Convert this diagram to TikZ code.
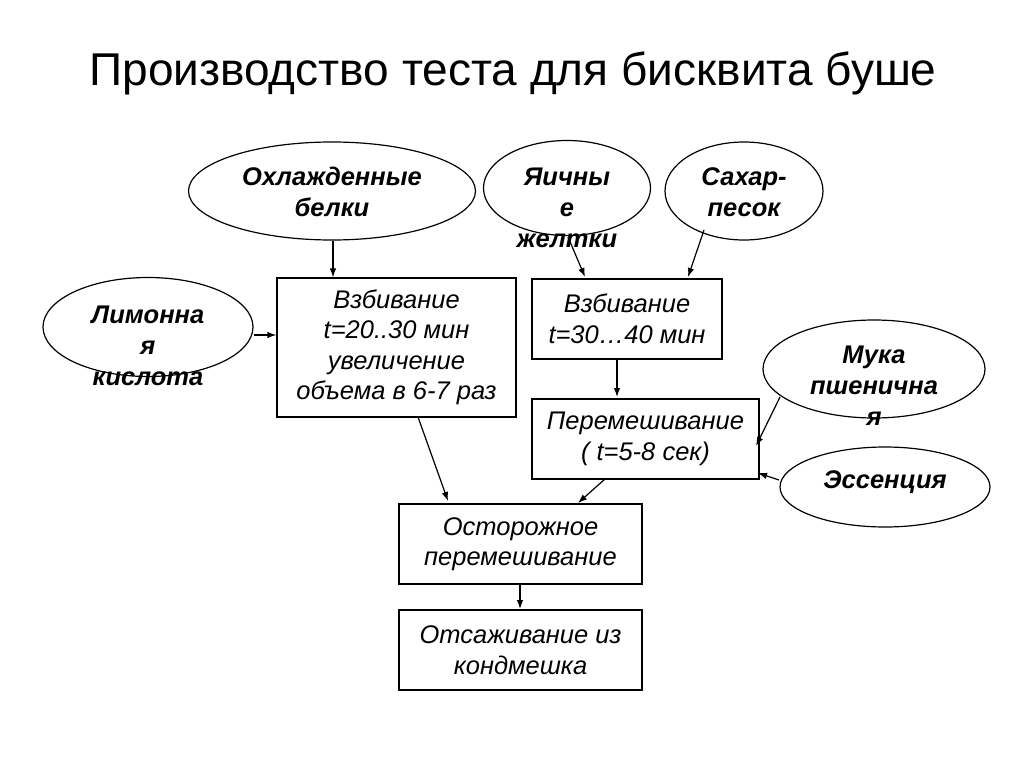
\documentclass[tikz,border=0pt]{standalone}
\usepackage{fontspec}
\setmainfont{Liberation Sans}
\usetikzlibrary{shapes.geometric,arrows.meta}
\begin{document}
\begin{tikzpicture}[x=1pt,y=-1pt,
  ell/.style={draw=black,line width=1.2pt,ellipse,inner sep=0pt},
  ebox/.style={draw=black,line width=1.2pt,inner sep=0pt},
  etxt/.style={font=\fontsize{25.5}{31}\selectfont\bfseries\itshape,align=center,inner sep=0pt},
  btxt/.style={font=\fontsize{25.5}{30.5}\selectfont\itshape,align=center,inner sep=0pt},
  arr/.style={-{Latex[length=9pt,width=6.5pt]},line width=1.2pt}]
\useasboundingbox (0,0) rectangle (1024,767);
\fill[white] (0,0) rectangle (1024,767);
\node[font=\fontsize{46}{56}\selectfont,inner sep=0pt] (title) at (513,73) {Производство теста для бисквита буше};
% ellipses
\node[ell,minimum width=287pt,minimum height=98pt] (e1) at (332,191) {};
\node[ell,minimum width=167pt,minimum height=95pt] (e2) at (567,188) {};
\node[ell,minimum width=158pt,minimum height=98pt] (e3) at (744,191) {};
\node[ell,minimum width=210pt,minimum height=99pt] (e4) at (148,327) {};
\node[ell,minimum width=222pt,minimum height=98pt] (e5) at (874,369) {};
\node[ell,minimum width=210pt,minimum height=80pt] (e6) at (885,487) {};
\node[etxt] (t1) at (332,192) {Охлажденные\\белки};
\node[etxt] (t2) at (567,208) {Яичны\\е\\желтки};
\node[etxt] (t3) at (744,192) {Сахар-\\песок};
\node[etxt] (t4) at (148,346) {Лимонна\\я\\кислота};
\node[etxt] (t5) at (874,386) {Мука\\пшенична\\я};
\node[etxt] (t6) at (885,482) {Эссенция};
% boxes
\node[ebox,minimum width=239pt,minimum height=139pt] (b1) at (396.5,347.5) {};
\node[ebox,minimum width=190pt,minimum height=80pt] (b2) at (627,319) {};
\node[ebox,minimum width=227pt,minimum height=80pt] (b3) at (645.5,439) {};
\node[ebox,minimum width=243pt,minimum height=80pt] (b4) at (520.5,544) {};
\node[ebox,minimum width=243pt,minimum height=80pt] (b5) at (520.5,650) {};
\node[btxt] at (b1) {Взбивание\\t=20..30 мин\\увеличение\\объема в 6-7 раз};
\node[btxt] at (b2) {Взбивание\\t=30\ldots40 мин};
\node[btxt] at (b3) {Перемешивание\\( t=5-8 сек)};
\node[btxt] at (b4) {Осторожное\\перемешивание};
\node[btxt] at (b5) {Отсаживание из\\кондмешка};
% connectors
\coordinate (p1) at (333,276);
\draw[arr] (e1.south -| p1) -- (p1 |- b1.north);
\draw[arr] (e4.east |- 0,335) -- (b1.west |- 0,335);
\draw[arr] (568,237) -- (585,277);
\draw[arr] (704,230) -- (688,277);
\draw[arr] (617,359) -- (617,397);
\draw[arr] (780,397) -- (756,446);
\draw[arr] (779,480) -- (758,473);
\draw[arr] (418,417) -- (448,501);
\draw[arr] (605,479) -- (578,503);
\draw[arr] (520,584) -- (520,609);
\end{tikzpicture}
\end{document}
